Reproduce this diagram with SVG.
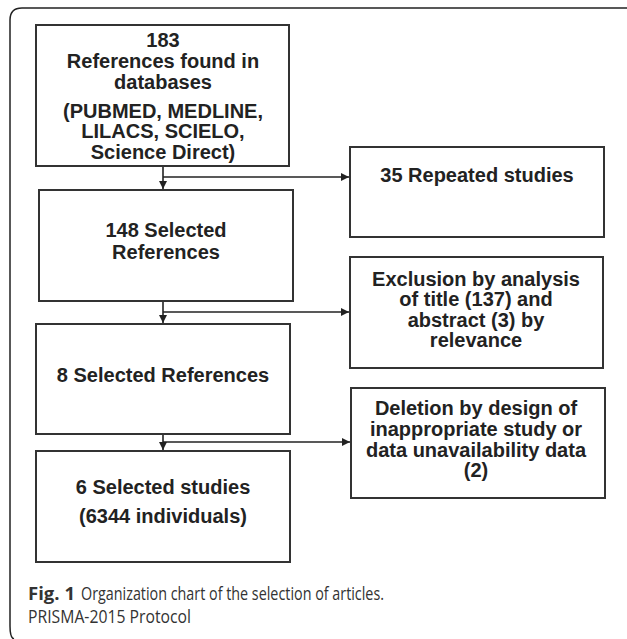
<svg xmlns="http://www.w3.org/2000/svg" width="627" height="639" viewBox="0 0 627 639">
<style>
.box{fill:#fff;stroke:#333;stroke-width:2}
.t{font-family:"Liberation Sans",Arial,sans-serif;font-weight:bold;font-size:20px;fill:#222;text-anchor:middle}
.c{stroke:#222;stroke-width:1.6;fill:none}
.cap{font-family:"Open Sans","Noto Sans",sans-serif;font-size:18px;fill:#333}
</style>
<defs>
<marker id="ah" viewBox="0 0 8 8" refX="8" refY="4" markerWidth="8" markerHeight="8" markerUnits="userSpaceOnUse" orient="auto">
<path d="M0,0 L8,4 L0,8 Z" fill="#222"/>
</marker>
</defs>
<rect width="627" height="639" fill="#fff"/>
<path d="M627,8 H22 Q10,8 10,20 V626 Q10,638 14,639" fill="none" stroke="#222" stroke-width="1.5"/>

<g id="n1">
<rect class="box" x="36" y="25" width="253" height="141"/>
<text class="t" x="163" y="47">183</text>
<text class="t" x="163" y="68">References found in</text>
<text class="t" x="163" y="89">databases</text>
<text class="t" x="163" y="118">(PUBMED, MEDLINE,</text>
<text class="t" x="163" y="138">LILACS, SCIELO,</text>
<text class="t" x="163" y="159">Science Direct)</text>
</g>
<g id="n2">
<rect class="box" x="39" y="190" width="254" height="111"/>
<text class="t" x="166" y="237">148 Selected</text>
<text class="t" x="166" y="259">References</text>
</g>
<g id="n3">
<rect class="box" x="36" y="324" width="254" height="110"/>
<text class="t" x="163" y="382">8 Selected References</text>
</g>
<g id="n4">
<rect class="box" x="36" y="451" width="254" height="111"/>
<text class="t" x="163" y="494">6 Selected studies</text>
<text class="t" x="163" y="523">(6344 individuals)</text>
</g>
<g id="n5">
<rect class="box" x="350" y="147" width="254" height="90"/>
<text class="t" x="477" y="182">35 Repeated studies</text>
</g>
<g id="n6">
<rect class="box" x="350" y="257" width="253" height="111"/>
<text class="t" x="476" y="286">Exclusion by analysis</text>
<text class="t" x="476" y="306">of title (137) and</text>
<text class="t" x="476" y="327">abstract (3) by</text>
<text class="t" x="476" y="347">relevance</text>
</g>
<g id="n7">
<rect class="box" x="351" y="388" width="254" height="110"/>
<text class="t" x="476" y="415">Deletion by design of</text>
<text class="t" x="476" y="436">inappropriate study or</text>
<text class="t" x="476" y="457">data unavailability data</text>
<text class="t" x="476" y="477">(2)</text>
</g>

<g id="connectors">
<path class="c" d="M163,167 V189" marker-end="url(#ah)"/>
<path class="c" d="M163,177 H349" marker-end="url(#ah)"/>
<path class="c" d="M163,302 V323" marker-end="url(#ah)"/>
<path class="c" d="M163,312 H349" marker-end="url(#ah)"/>
<path class="c" d="M163,435 V450" marker-end="url(#ah)"/>
<path class="c" d="M163,442 H350" marker-end="url(#ah)"/>
</g>

<g id="caption">
<text class="cap" x="28" y="600" font-weight="bold" fill="#111" textLength="47" lengthAdjust="spacingAndGlyphs">Fig. 1</text>
<text class="cap" x="81" y="600" textLength="303" lengthAdjust="spacingAndGlyphs">Organization chart of the selection of articles.</text>
<text class="cap" x="28" y="623" textLength="163" lengthAdjust="spacingAndGlyphs">PRISMA-2015 Protocol</text>
</g>
</svg>
